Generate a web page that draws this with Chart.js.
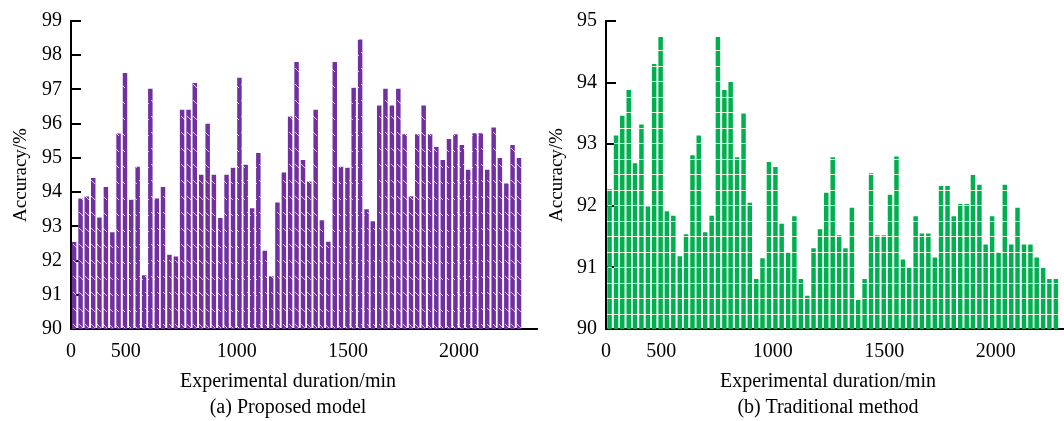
<!DOCTYPE html>
<html>
<head>
<meta charset="utf-8">
<script src="https://cdn.jsdelivr.net/npm/chart.js@4.4.0/dist/chart.umd.min.js"></script>
<style>
html, body { margin: 0; padding: 0; background: #fff; }
#wrap { position: relative; width: 1064px; height: 421px; font-family: 'Times New Roman', 'Liberation Serif', serif; }
.box { position: absolute; top: 0; height: 421px; }
.txt { position: absolute; font-size: 20px; line-height: 24px; color: #000; white-space: nowrap; transform: translateX(-50%); }
</style>
</head>
<body>
<div id="wrap">
  <div class="box" style="left:0;width:540px"><canvas id="chartA"></canvas></div>
  <div class="box" style="left:540px;width:524px"><canvas id="chartB"></canvas></div>
  <div class="txt" style="left:288px;top:368px">Experimental duration/min</div>
  <div class="txt" style="left:288px;top:394px">(a) Proposed model</div>
  <div class="txt" style="left:828px;top:368px">Experimental duration/min</div>
  <div class="txt" style="left:828px;top:394px">(b) Traditional method</div>
</div>
<script>
// durata sperimentale (min) di ogni barra
var durations = [268, 297, 325, 354, 382, 411, 440, 468, 497, 525, 554, 583, 611, 640, 668, 697,
    726, 754, 783, 811, 840, 869, 897, 926, 954, 983, 1012, 1040, 1069, 1097, 1126, 1155, 1183,
    1212, 1240, 1269, 1298, 1326, 1355, 1383, 1412, 1441, 1469, 1498, 1526, 1555, 1584, 1612,
    1641, 1669, 1698, 1727, 1755, 1784, 1812, 1841, 1870, 1898, 1927, 1955, 1984, 2013, 2041,
    2070, 2098, 2127, 2156, 2184, 2213, 2241, 2270];

// (a) modello proposto
var proposedAccuracy = [92.54, 93.81, 93.87, 94.41, 93.26, 94.15, 92.83, 95.71, 97.48, 93.78,
    94.74, 91.57, 97.02, 93.81, 94.15, 92.17, 92.12, 96.41, 96.41, 97.19, 94.51, 96.0, 94.51,
    93.24, 94.51, 94.71, 97.34, 94.80, 93.53, 95.14, 92.29, 91.54, 93.70, 94.57, 96.21, 97.80,
    94.94, 94.31, 96.41, 93.18, 92.55, 97.80, 94.74, 94.71, 97.05, 98.46, 93.50, 93.15, 96.53,
    97.02, 96.53, 97.02, 95.69, 93.88, 95.69, 96.53, 95.69, 95.32, 94.94, 95.55, 95.69, 95.38,
    94.65, 95.72, 95.72, 94.65, 95.89, 95.0, 94.25, 95.38, 95.0];

// (b) metodo tradizionale
var traditionalAccuracy = [92.27, 93.14, 93.46, 93.88, 92.69, 93.32, 91.99, 94.30, 94.74, 91.91,
    91.84, 91.18, 91.54, 92.82, 93.14, 91.57, 91.84, 94.74, 93.88, 94.01, 92.79, 93.50, 92.05,
    90.81, 91.15, 92.71, 92.63, 91.71, 91.25, 91.83, 90.81, 90.54, 91.31, 91.62, 92.21, 92.79,
    91.52, 91.31, 91.97, 90.47, 90.81, 92.53, 91.52, 91.52, 92.18, 92.80, 91.13, 91.0, 91.83,
    91.55, 91.55, 91.16, 92.32, 92.32, 91.83, 92.03, 92.03, 92.51, 92.34, 91.37, 91.83, 91.25,
    92.34, 91.37, 91.97, 91.37, 91.37, 91.16, 90.99, 90.81, 90.81];

// etichette dell'asse x (il primo tick si chiama "0")
var xTickValues = [500, 1000, 1500, 2000];
var xStartLabel = '0';

var fontFamily = "'Times New Roman', 'Liberation Serif', serif";

// riempimento viola con trattini chiari
function purplePattern() {
    var c = document.createElement('canvas');
    c.width = 6;
    c.height = 16;
    var g = c.getContext('2d');
    g.fillStyle = '#7030A0';
    g.fillRect(0, 0, 6, 16);
    g.fillStyle = 'rgba(230,215,245,0.9)';
    g.fillRect(1, 4, 1, 1);
    g.fillRect(2, 5, 1, 1);
    g.fillRect(3, 6, 1, 1);
    g.fillRect(4, 7, 1, 1);
    return g.createPattern(c, 'repeat');
}

// riempimento verde con righe orizzontali chiare
function greenPattern() {
    var c = document.createElement('canvas');
    c.width = 4;
    c.height = 31;
    var g = c.getContext('2d');
    g.fillStyle = '#00B050';
    g.fillRect(0, 0, 4, 31);
    g.fillStyle = '#E4F1DA';
    g.fillRect(0, 4, 4, 1);
    g.fillRect(0, 19, 4, 1);
    return g.createPattern(c, 'repeat');
}

// tacche dell'asse y verso l'interno (sotto le barre)
var innerTicks = {
    id: 'innerTicks',
    beforeDatasetsDraw: function (chart) {
        var ctx = chart.ctx;
        var y = chart.scales.y;
        var left = chart.chartArea.left;
        ctx.save();
        ctx.strokeStyle = '#000';
        ctx.lineWidth = 2;
        y.ticks.forEach(function (t) {
            var py = Math.round(y.getPixelForValue(t.value));
            ctx.beginPath();
            ctx.moveTo(left, py);
            ctx.lineTo(left + 10, py);
            ctx.stroke();
        });
        ctx.restore();
    }
};

function makeChart(id, values, fill, opt) {
    var points = values.map(function (v, i) {
        return { x: durations[i], y: v };
    });
    return new Chart(document.getElementById(id), {
        type: 'bar',
        data: {
            datasets: [{
                data: points,
                backgroundColor: fill,
                borderWidth: 0,
                barPercentage: 0.72,
                categoryPercentage: 1
            }]
        },
        options: {
            responsive: true,
            maintainAspectRatio: false,
            animation: false,
            layout: { padding: { top: 19, right: opt.padRight, bottom: 0, left: 0 } },
            plugins: {
                legend: { display: false },
                tooltip: { enabled: false }
            },
            scales: {
                x: {
                    type: 'linear',
                    offset: false,
                    min: opt.xMin,
                    max: opt.xMax,
                    afterBuildTicks: function (s) {
                        s.ticks = [opt.xMin].concat(xTickValues).map(function (v) {
                            return { value: v };
                        });
                    },
                    afterFit: function (s) { s.height = 92; },
                    ticks: {
                        autoSkip: false,
                        maxRotation: 0,
                        padding: 11,
                        color: '#000',
                        font: { family: fontFamily, size: 20 },
                        callback: function (v) {
                            return v === opt.xMin ? xStartLabel : String(v);
                        }
                    },
                    grid: { display: false, drawTicks: false, offset: false },
                    border: { display: true, color: '#000', width: 2 }
                },
                y: {
                    min: 90,
                    max: opt.yMax,
                    afterFit: function (s) { s.width = opt.axisLeft; },
                    ticks: {
                        stepSize: 1,
                        padding: 9,
                        color: '#000',
                        font: { family: fontFamily, size: 20 }
                    },
                    grid: { display: false, drawTicks: false },
                    border: { display: true, color: '#000', width: 2 },
                    title: {
                        display: true,
                        text: 'Accuracy/%',
                        color: '#000',
                        font: { family: fontFamily, size: 19 },
                        padding: { top: opt.titlePad, bottom: 0 }
                    }
                }
            }
        },
        plugins: [innerTicks]
    });
}

makeChart('chartA', proposedAccuracy, purplePattern(),
    { xMin: 254, xMax: 2351, yMax: 99, axisLeft: 71, padRight: 3, titlePad: 10 });
makeChart('chartB', traditionalAccuracy, greenPattern(),
    { xMin: 252, xMax: 2302, yMax: 95, axisLeft: 66, padRight: 1, titlePad: 6 });
</script>
</body>
</html>
